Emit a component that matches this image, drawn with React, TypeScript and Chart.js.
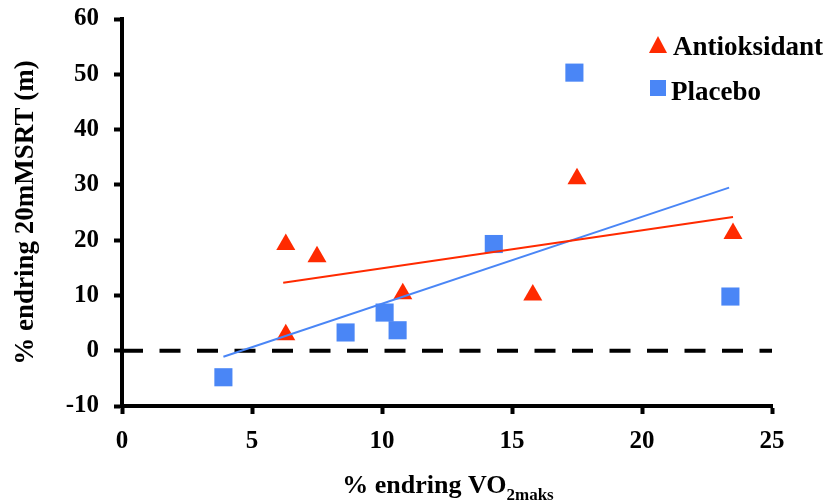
import React, { useEffect, useRef } from "react";
import { Chart, registerables } from "chart.js";

Chart.register(...registerables);

// ---- data ----
const antiLabel = "Antioksidant";
const placeboLabel = "Placebo";
const antiX = [6.3, 6.3, 7.5, 10.8, 15.8, 17.5, 23.5];
const antiY = [19.2, 2.9, 17.0, 10.3, 10.1, 31.1, 21.2];
const placeboX = [3.9, 8.6, 10.1, 10.6, 14.3, 17.4, 23.4];
const placeboY = [-4.8, 3.3, 6.9, 3.7, 19.3, 50.3, 9.8];
const antiTrendX = [6.2, 23.5];
const antiTrendY = [12.3, 24.2];
const placeboTrendX = [3.9, 23.35];
const placeboTrendY = [-1.1, 29.5];
const zeroLineX = [0, 25];
const zeroLineY = [0, 0];
const xTicks = [0, 5, 10, 15, 20, 25];
const yTicks = [-10, 0, 10, 20, 30, 40, 50, 60];
const yTitle = "% endring 20mMSRT (m)";
const xTitleMain = "% endring VO";
const xTitleSub = "2maks";

const RED = "#ff2a00";
const BLUE = "#4a86f6";
const FONT = '"Liberation Serif", "Times New Roman", serif';

const pts = (xs: number[], ys: number[]) => xs.map((x, i) => ({ x, y: ys[i] }));

export default function App() {
  const ref = useRef<HTMLCanvasElement | null>(null);

  useEffect(() => {
    document.body.style.margin = "0";
    const canvas = ref.current;
    if (!canvas) return;

    const overlay = {
      id: "overlay",
      afterDraw(chart: any) {
        const ctx = chart.ctx as CanvasRenderingContext2D;
        const area = chart.chartArea;
        ctx.save();
        ctx.fillStyle = "#000";
        ctx.textBaseline = "alphabetic";
        ctx.textAlign = "left";
        const mainFont = `bold 26px ${FONT}`;
        const legendFont = `bold 27px ${FONT}`;
        const subFont = `bold 17px ${FONT}`;
        ctx.font = mainFont;
        const w1 = ctx.measureText(xTitleMain).width;
        ctx.font = subFont;
        const w2 = ctx.measureText(xTitleSub).width;
        const cx = (area.left + area.right) / 2 + 1;
        const x0 = cx - (w1 + w2) / 2;
        ctx.font = mainFont;
        ctx.fillText(xTitleMain, x0, 493);
        ctx.font = subFont;
        ctx.fillText(xTitleSub, x0 + w1, 500);

        // legend
        ctx.fillStyle = RED;
        ctx.beginPath();
        ctx.moveTo(658, 36);
        ctx.lineTo(667, 53);
        ctx.lineTo(649, 53);
        ctx.closePath();
        ctx.fill();
        ctx.fillStyle = BLUE;
        ctx.fillRect(650, 80, 16, 16);
        ctx.fillStyle = "#000";
        ctx.font = legendFont;
        ctx.fillText(antiLabel, 673, 55);
        ctx.fillText(placeboLabel, 671, 100);
        ctx.restore();
      },
    };

    const chart = new Chart(canvas, {
      type: "scatter",
      data: {
        datasets: [
          {
            type: "line",
            label: "zero",
            data: pts(zeroLineX, zeroLineY),
            borderColor: "#000",
            borderWidth: 4,
            borderDash: [21, 16.5],
            pointRadius: 0,
            order: 3,
          } as any,
          {
            type: "line",
            label: "antiTrend",
            data: pts(antiTrendX, antiTrendY),
            borderColor: RED,
            borderWidth: 2,
            pointRadius: 0,
            order: 0,
          },
          {
            type: "line",
            label: "placeboTrend",
            data: pts(placeboTrendX, placeboTrendY),
            borderColor: BLUE,
            borderWidth: 2,
            pointRadius: 0,
            order: 0,
          },
          {
            label: antiLabel,
            data: pts(antiX, antiY),
            pointStyle: "triangle",
            pointRadius: 11,
            backgroundColor: RED,
            borderColor: RED,
            borderWidth: 0,
            order: 1,
          },
          {
            label: placeboLabel,
            data: pts(placeboX, placeboY),
            pointStyle: "rect",
            pointRadius: 12.8,
            backgroundColor: BLUE,
            borderColor: BLUE,
            borderWidth: 0,
            order: 1,
          },
        ],
      },
      options: {
        responsive: false,
        animation: false,
        layout: { padding: { top: 19, right: 51, left: 0, bottom: 0 } },
        plugins: {
          legend: { display: false },
          tooltip: { enabled: false },
        },
        scales: {
          x: {
            type: "linear",
            min: 0,
            max: 25,
            afterFit: (s: any) => {
              s.height = 98;
              s.paddingLeft = 0;
              s.paddingRight = 0;
            },
            afterBuildTicks: (s: any) => {
              s.ticks = xTicks.map((v) => ({ value: v }));
            },
            border: { display: true, color: "#000", width: 4 },
            grid: {
              drawOnChartArea: false,
              drawTicks: true,
              tickLength: 8,
              tickWidth: 4,
              tickColor: "#000",
            },
            ticks: {
              color: "#000",
              padding: 13,
              font: { family: FONT, size: 25, weight: "bold" },
            },
          },
          y: {
            type: "linear",
            min: -10,
            max: 60,
            afterFit: (s: any) => {
              s.width = 122;
              s.paddingTop = 0;
              s.paddingBottom = 0;
            },
            afterBuildTicks: (s: any) => {
              s.ticks = yTicks.map((v) => ({ value: v }));
            },
            border: { display: true, color: "#000", width: 4 },
            grid: {
              drawOnChartArea: false,
              drawTicks: true,
              tickLength: 8,
              tickWidth: 4,
              tickColor: "#000",
            },
            ticks: {
              color: "#000",
              padding: 15,
              font: { family: FONT, size: 25, weight: "bold" },
            },
            title: {
              display: true,
              text: yTitle,
              color: "#000",
              padding: { top: 10, bottom: 0 },
              font: { family: FONT, size: 27, weight: "bold" },
            },
          },
        },
      },
      plugins: [overlay],
    });

    return () => chart.destroy();
  }, []);

  return (
    <div style={{ width: 823, height: 504 }}>
      <canvas ref={ref} width={823} height={504} style={{ display: "block" }} />
    </div>
  );
}
